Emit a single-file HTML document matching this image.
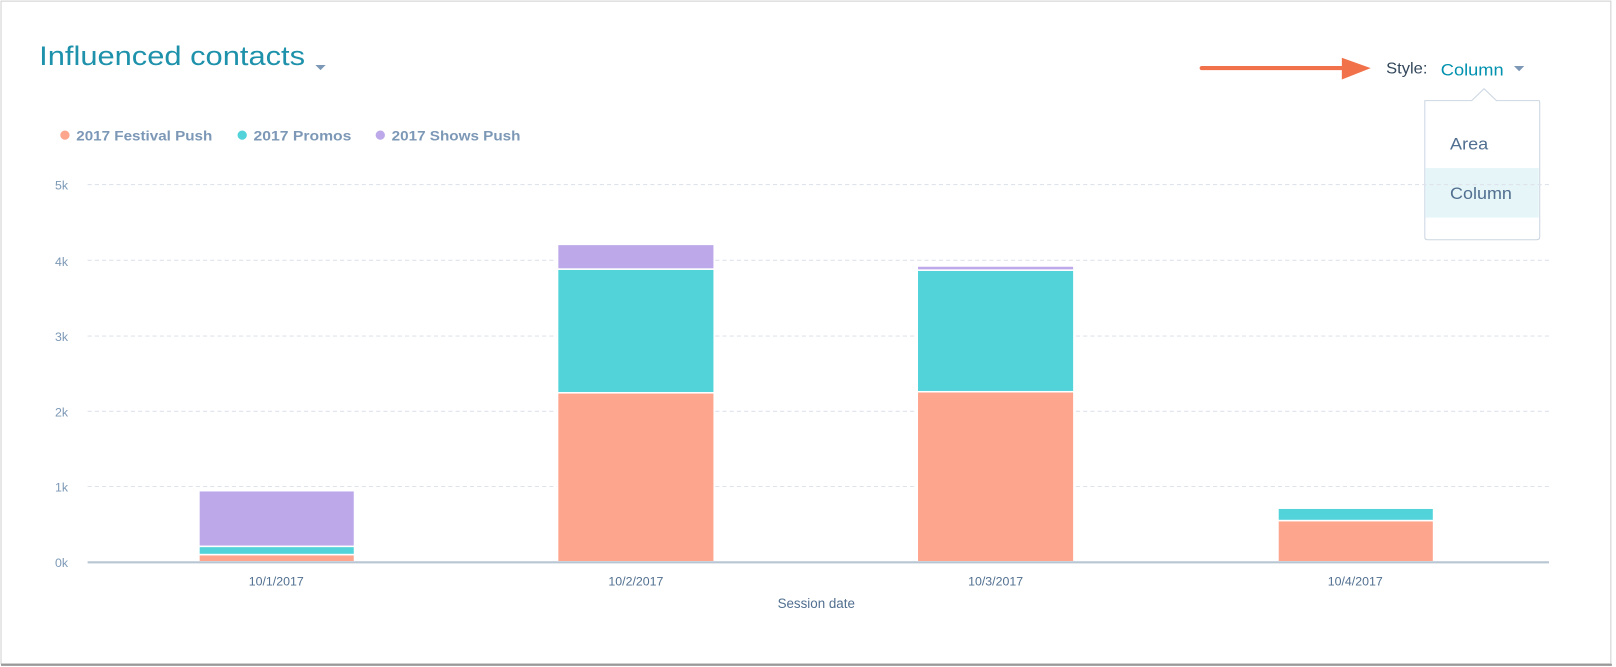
<!DOCTYPE html>
<html><head><meta charset="utf-8"><style>
html,body{margin:0;padding:0;background:#fff;}
svg{display:block;}
text{font-family:"Liberation Sans",sans-serif;}
</style></head><body>
<svg width="1616" height="667" viewBox="0 0 1568 647" xmlns="http://www.w3.org/2000/svg">
<rect x="0" y="0" width="1568" height="647" fill="#fff"/>
<rect x="1" y="1" width="1562" height="643" fill="#fff" stroke="#d0d0d0" stroke-width="1"/>
<line x1="1" y1="645" x2="1564" y2="645" stroke="#999" stroke-width="2"/>
<text x="38" y="63" font-size="26" fill="#1e91ab" textLength="258" lengthAdjust="spacingAndGlyphs">Influenced contacts</text>
<path d="M306 63 L316 63 L311 68 Z" fill="#7c98b6"/>
<!-- arrow -->
<line x1="1166" y1="66" x2="1305" y2="66" stroke="#f1724a" stroke-width="4" stroke-linecap="round"/>
<path d="M1302 56 L1330 66 L1302 77 Z" fill="#f1724a"/>
<text x="1345" y="71" font-size="15" fill="#33475b" textLength="40" lengthAdjust="spacingAndGlyphs">Style:</text>
<text x="1398" y="73" font-size="16" fill="#0091ae" textLength="61" lengthAdjust="spacingAndGlyphs">Column</text>
<path d="M1469 64 L1479 64 L1474 69 Z" fill="#7c98b6"/>
<!-- dropdown -->
<path d="M1382.5 97.5 L1428 97.5 L1440 86 L1452 97.5 L1493.5 97.5 Q1494 97.5 1494 100 L1494 230 Q1494 232.5 1491 232.5 L1385 232.5 Q1382.5 232.5 1382.5 230 Z" fill="#fff" stroke="#cbd6e2"/>
<rect x="1383" y="163" width="110" height="48" fill="#e5f5f8"/>
<text x="1407" y="145" font-size="16" fill="#516f90" textLength="37" lengthAdjust="spacingAndGlyphs">Area</text>
<text x="1407" y="193" font-size="16" fill="#516f90" textLength="60" lengthAdjust="spacingAndGlyphs">Column</text>
<!-- legend -->
<g font-size="13" font-weight="bold" fill="#7c98b6">
<circle cx="63" cy="131" r="4.5" fill="#fea58e"/><text x="74" y="136" textLength="132" lengthAdjust="spacingAndGlyphs">2017 Festival Push</text>
<circle cx="235" cy="131" r="4.5" fill="#51d3d9"/><text x="246" y="136" textLength="95" lengthAdjust="spacingAndGlyphs">2017 Promos</text>
<circle cx="369" cy="131" r="4.5" fill="#bda9ea"/><text x="380" y="136" textLength="125" lengthAdjust="spacingAndGlyphs">2017 Shows Push</text>
</g>
<!-- grid -->
<g stroke="#dfe3eb" stroke-dasharray="4,3" stroke-width="1">
<line x1="85" y1="179" x2="1503" y2="179"/>
<line x1="85" y1="252.5" x2="1503" y2="252.5"/>
<line x1="85" y1="326" x2="1503" y2="326"/>
<line x1="85" y1="399" x2="1503" y2="399"/>
<line x1="85" y1="472" x2="1503" y2="472"/>
</g>
<g font-size="12" fill="#7c98b6" text-anchor="end">
<text x="66" y="184">5k</text>
<text x="66" y="258">4k</text>
<text x="66" y="331">3k</text>
<text x="66" y="404">2k</text>
<text x="66" y="477">1k</text>
<text x="66" y="550">0k</text>
</g>
<!-- bars -->
<g stroke="#fff" stroke-width="1.5">
<rect x="193" y="538" width="151" height="7" fill="#fea58e"/>
<rect x="193" y="530" width="151" height="8" fill="#51d3d9"/>
<rect x="193" y="476" width="151" height="54" fill="#bda9ea"/>
<rect x="541" y="381" width="152" height="164" fill="#fea58e"/>
<rect x="541" y="261" width="152" height="120" fill="#51d3d9"/>
<rect x="541" y="237" width="152" height="24" fill="#bda9ea"/>
<rect x="890" y="380" width="152" height="165" fill="#fea58e"/>
<rect x="890" y="262" width="152" height="118" fill="#51d3d9"/>
<rect x="890" y="258" width="152" height="4" fill="#bda9ea"/>
<rect x="1240" y="505" width="151" height="40" fill="#fea58e"/>
<rect x="1240" y="493" width="151" height="12" fill="#51d3d9"/>
</g>
<line x1="85" y1="545.5" x2="1503" y2="545.5" stroke="#b8c5d3" stroke-width="2"/>
<g font-size="12" fill="#516f90" text-anchor="middle">
<text x="268" y="568">10/1/2017</text>
<text x="617" y="568">10/2/2017</text>
<text x="966" y="568">10/3/2017</text>
<text x="1315" y="568">10/4/2017</text>
<text x="792" y="590" font-size="13">Session date</text>
</g>
</svg>
</body></html>
